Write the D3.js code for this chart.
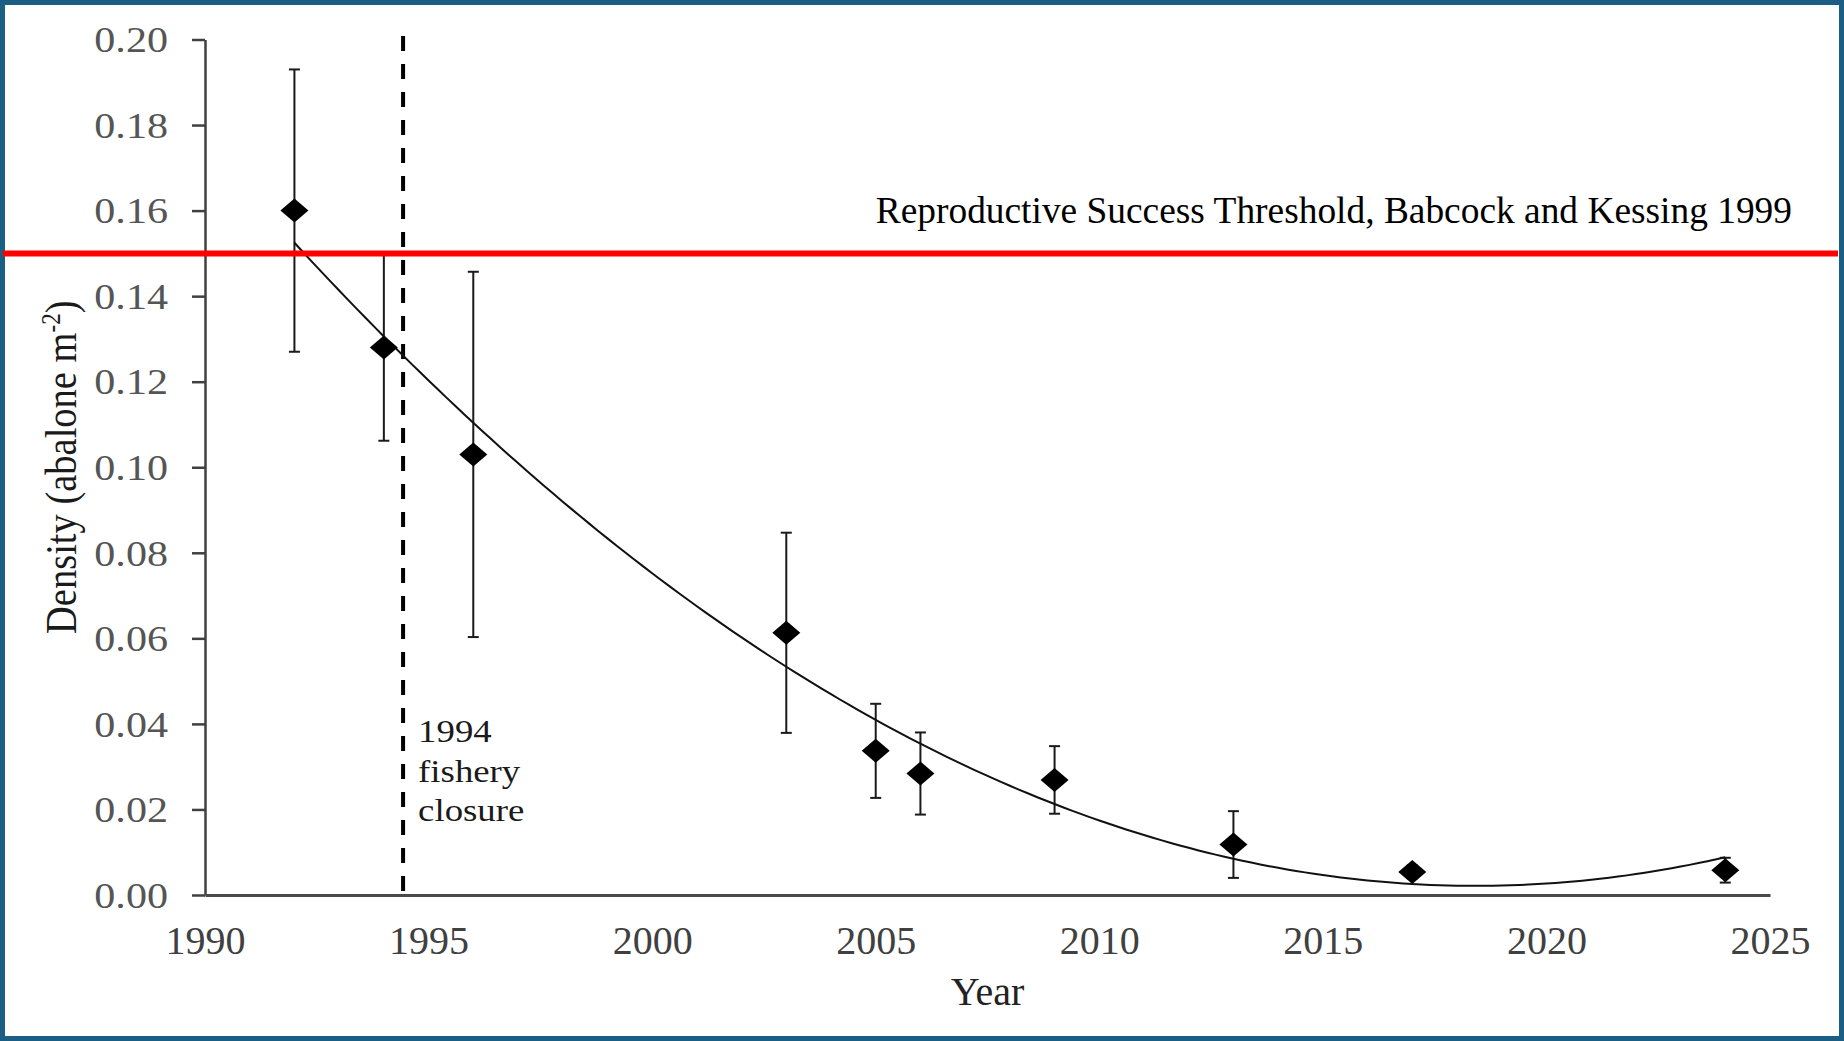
<!DOCTYPE html>
<html>
<head>
<meta charset="utf-8">
<script src="https://cdn.jsdelivr.net/npm/d3@7"></script>
<style>
  html, body { margin: 0; padding: 0; background: #fff; }
  svg { display: block; }
  text { font-family: "Liberation Serif", "Times New Roman", serif; }
</style>
</head>
<body>
<svg id="chart" width="1844" height="1041"></svg>
<script>
// Survey years and mean abalone density (abalone per m²) with standard errors
const years   = [1992, 1994, 1996, 2003, 2005, 2006, 2009, 2013, 2017, 2024];
const density = [0.160, 0.128, 0.103, 0.0613, 0.0337, 0.0284, 0.0269, 0.0118, 0.0054, 0.0058];
const stdErr  = [0.033, 0.0218, 0.0427, 0.0234, 0.011, 0.0096, 0.0079, 0.0078, 0.0015, 0.0029];

const xTicks = [1990, 1995, 2000, 2005, 2010, 2015, 2020, 2025];
const yTicks = [0, 0.02, 0.04, 0.06, 0.08, 0.10, 0.12, 0.14, 0.16, 0.18, 0.20];

const thresholdValue = 0.15;
const thresholdLabel = "Reproductive Success Threshold, Babcock and Kessing 1999";
const closureYear = 1994.43;
const closureSpan = [-0.001, 0.2008];
const closureLabel = ["1994", "fishery", "closure"];

const W = 1844, H = 1041;
const svg = d3.select("#chart");

const x = d3.scaleLinear().domain([1990, 2025]).range([205, 1770]);
const y = d3.scaleLinear().domain([0, 0.2]).range([895, 39.5]);

// stretch text horizontally by factor k
function stretch(sel, k) {
  sel.each(function () {
    const len = this.getComputedTextLength();
    d3.select(this).attr("textLength", len * k).attr("lengthAdjust", "spacingAndGlyphs");
  });
}

// frame
svg.append("rect")
  .attr("x", 2.5).attr("y", 2.5).attr("width", W - 5).attr("height", H - 5)
  .attr("fill", "#fff").attr("stroke", "#1c5d84").attr("stroke-width", 5);

// y axis
const yAxis = svg.append("g")
  .attr("transform", `translate(${x(1990)},0)`)
  .call(d3.axisLeft(y).tickValues(yTicks).tickFormat(d3.format(".2f")).tickSize(13).tickSizeOuter(0));
yAxis.select(".domain").attr("stroke", "#404040").attr("stroke-width", 2.5);
yAxis.selectAll(".tick line").attr("stroke", "#404040").attr("stroke-width", 2.5);
yAxis.selectAll(".tick text")
  .attr("x", -37).attr("dy", "0.34em")
  .attr("font-size", 36).attr("fill", "#555")
  .style("font-family", "Liberation Serif")
  .call(stretch, 1.17);

// x axis
const xAxis = svg.append("g")
  .attr("transform", `translate(0,${y(0)})`)
  .call(d3.axisBottom(x).tickValues(xTicks).tickFormat(d3.format("d")).tickSize(0).tickSizeOuter(0));
xAxis.select(".domain").attr("stroke", "#4a4a4a").attr("stroke-width", 3);
xAxis.selectAll(".tick text")
  .attr("y", 59).attr("dy", 0)
  .attr("font-size", 40).attr("fill", "#404040")
  .style("font-family", "Liberation Serif");

// axis titles
svg.append("text")
  .attr("x", (x.range()[0] + x.range()[1]) / 2).attr("y", 1005)
  .attr("text-anchor", "middle").attr("font-size", 40).attr("fill", "#222")
  .text("Year");

const yTitle = svg.append("text")
  .attr("transform", `translate(76,${(y.range()[0] + y.range()[1]) / 2}) scale(1.17,1) rotate(-90)`)
  .attr("text-anchor", "middle").attr("font-size", 38.5).attr("fill", "#1a1a1a");
yTitle.append("tspan").text("Density (abalone m");
yTitle.append("tspan").attr("font-size", 23).attr("dy", -14).text("-2");
yTitle.append("tspan").attr("font-size", 38.5).attr("dy", 14).text(")");

// fishery closure marker
svg.append("line")
  .attr("x1", x(closureYear)).attr("x2", x(closureYear))
  .attr("y1", y(closureSpan[1])).attr("y2", y(closureSpan[0]))
  .attr("stroke", "#000").attr("stroke-width", 4)
  .attr("stroke-dasharray", "15 13");

const note = svg.append("g");
note.selectAll("text").data(closureLabel).join("text")
  .attr("x", x(closureYear) + 15)
  .attr("y", (d, i) => 742 + i * 39.5)
  .attr("font-size", 32).attr("fill", "#1a1a1a")
  .text(d => d)
  .call(stretch, 1.15);

// least-squares quadratic trend through the survey means
function quadFit(xs, ys) {
  const x0 = 2000;
  let S = [0, 0, 0, 0, 0], T = [0, 0, 0];
  xs.forEach((xv, i) => {
    const t = xv - x0;
    for (let k = 0; k <= 4; k++) S[k] += Math.pow(t, k);
    for (let k = 0; k <= 2; k++) T[k] += Math.pow(t, k) * ys[i];
  });
  const M = [[S[0], S[1], S[2], T[0]], [S[1], S[2], S[3], T[1]], [S[2], S[3], S[4], T[2]]];
  for (let c = 0; c < 3; c++) {
    for (let r = c + 1; r < 3; r++) {
      const f = M[r][c] / M[c][c];
      for (let k = c; k < 4; k++) M[r][k] -= f * M[c][k];
    }
  }
  const b = [0, 0, 0];
  for (let r = 2; r >= 0; r--) {
    let s = M[r][3];
    for (let k = r + 1; k < 3; k++) s -= M[r][k] * b[k];
    b[r] = s / M[r][r];
  }
  return xv => b[0] + b[1] * (xv - x0) + b[2] * (xv - x0) * (xv - x0);
}
const trend = quadFit(years, density);
const trendX = d3.range(d3.min(years), d3.max(years) + 0.001, 0.2);

// error bars
const pts = years.map((yr, i) => ({ yr, v: density[i], se: stdErr[i] }));
const eb = svg.append("g").attr("stroke", "#1a1a1a").attr("stroke-width", 2);
eb.selectAll("line.stem").data(pts).join("line").attr("class", "stem")
  .attr("x1", d => x(d.yr)).attr("x2", d => x(d.yr))
  .attr("y1", d => y(d.v + d.se)).attr("y2", d => y(d.v - d.se));
eb.selectAll("line.capT").data(pts).join("line").attr("class", "capT")
  .attr("x1", d => x(d.yr) - 5.5).attr("x2", d => x(d.yr) + 5.5)
  .attr("y1", d => y(d.v + d.se)).attr("y2", d => y(d.v + d.se));
eb.selectAll("line.capB").data(pts).join("line").attr("class", "capB")
  .attr("x1", d => x(d.yr) - 5.5).attr("x2", d => x(d.yr) + 5.5)
  .attr("y1", d => y(d.v - d.se)).attr("y2", d => y(d.v - d.se));

// trend curve
svg.append("path")
  .datum(trendX)
  .attr("fill", "none").attr("stroke", "#111").attr("stroke-width", 2)
  .attr("d", d3.line().x(d => x(d)).y(d => y(trend(d))).curve(d3.curveLinear));

// diamond markers
svg.append("g").selectAll("path").data(pts).join("path")
  .attr("transform", d => `translate(${x(d.yr)},${y(d.v)})`)
  .attr("d", "M0,-12L14,0L0,12L-14,0Z")
  .attr("fill", "#000");

// reproductive threshold
svg.append("line")
  .attr("x1", 3).attr("x2", W - 6)
  .attr("y1", y(thresholdValue)).attr("y2", y(thresholdValue))
  .attr("stroke", "#ff0000").attr("stroke-width", 6);

svg.append("text")
  .attr("x", 1792).attr("y", 223)
  .attr("text-anchor", "end").attr("font-size", 37.4).attr("fill", "#000")
  .text(thresholdLabel);
</script>
</body>
</html>
